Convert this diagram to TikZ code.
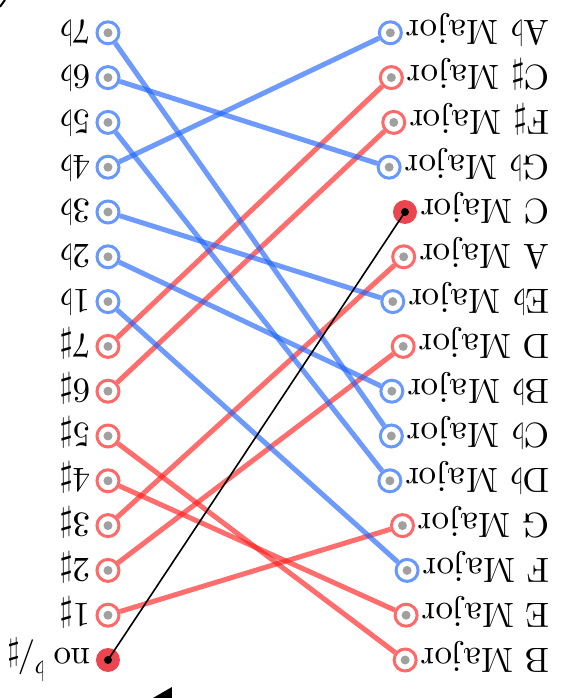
\documentclass[tikz,border=0pt]{standalone}
\usepackage{fix-cm}
\usepackage{amsmath, amssymb}
\usepackage{xcolor}
\usepackage{tikz}
\usetikzlibrary{arrows.meta, positioning, calc}

\definecolor{cBlue}{RGB}{30,100,250}
\definecolor{cRed}{RGB}{255,30,30}
\definecolor{cBlueEdge}{RGB}{105,152,252}
\definecolor{cRedEdge}{RGB}{255,105,105}
\definecolor{cRedFill}{RGB}{235,70,80}
\definecolor{cDot}{RGB}{160,160,160}

\font\keyfont="[lmroman10-regular]" at 35pt

\begin{document}
\begin{tikzpicture}[x=1pt, y=1pt, rotate=180, transform shape,
    lbl/.style={font=\fontsize{35}{40}\selectfont\keyfont, inner sep=0pt, text height=24pt, text depth=0pt},
    ring/.style={circle, draw=#1, line width=3pt, fill=white, minimum size=22pt, inner sep=0pt,
        path picture={\fill[cDot] (path picture bounding box.center) circle (4.5pt);}},
    bring/.style={ring=cBlueEdge},
    rring/.style={ring=cRedEdge},
    keydot/.style={circle, fill=cRedFill, minimum size=24pt, inner sep=0pt,
        path picture={\fill[black] (path picture bounding box.center) circle (4pt);}},
    bline/.style={line width=5pt, draw=cBlue, draw opacity=0.65},
    rline/.style={line width=5pt, draw=cRed, draw opacity=0.65}]
    \useasboundingbox (0,0) rectangle (564,-698);

    % Tonarten (links)
    \node[lbl, anchor=west] (lB) at (14,-38) {B Major};
    \node[lbl, anchor=west] (lE) at (14,-82.8) {E Major};
    \node[lbl, anchor=west] (lF) at (14,-127.6) {F Major};
    \node[lbl, anchor=west] (lG) at (14,-172.4) {G Major};
    \node[lbl, anchor=west] (lDb) at (14,-217.2) {D$\flat$ Major};
    \node[lbl, anchor=west] (lCb) at (14,-262) {C$\flat$ Major};
    \node[lbl, anchor=west] (lBb) at (14,-306.8) {B$\flat$ Major};
    \node[lbl, anchor=west] (lD) at (14,-351.6) {D Major};
    \node[lbl, anchor=west] (lEb) at (14,-396.4) {E$\flat$ Major};
    \node[lbl, anchor=west] (lA) at (14,-441.2) {A Major};
    \node[lbl, anchor=west] (lC) at (14,-486) {C Major};
    \node[lbl, anchor=west] (lGb) at (14,-530.8) {G$\flat$ Major};
    \node[lbl, anchor=west] (lFs) at (14,-575.6) {F$\sharp$ Major};
    \node[lbl, anchor=west] (lCs) at (14,-620.4) {C$\sharp$ Major};
    \node[lbl, anchor=west] (lAb) at (14,-665.2) {A$\flat$ Major};

    \node[rring, right=3pt of lB] (kB) {};
    \node[rring, right=3pt of lE] (kE) {};
    \node[bring, right=3pt of lF] (kF) {};
    \node[rring, right=3pt of lG] (kG) {};
    \node[bring, right=3pt of lDb] (kDb) {};
    \node[bring, right=3pt of lCb] (kCb) {};
    \node[bring, right=3pt of lBb] (kBb) {};
    \node[rring, right=3pt of lD] (kD) {};
    \node[bring, right=3pt of lEb] (kEb) {};
    \node[rring, right=3pt of lA] (kA) {};
    \node[keydot, right=3pt of lC] (kC) {};
    \node[bring, right=3pt of lGb] (kGb) {};
    \node[rring, right=3pt of lFs] (kFs) {};
    \node[rring, right=3pt of lCs] (kCs) {};
    \node[bring, right=3pt of lAb] (kAb) {};

    % Vorzeichen (rechts)
    \node[keydot] (nn) at (456,-38) {};
    \node[rring] (s1) at (456,-82.8) {};
    \node[rring] (s2) at (456,-127.6) {};
    \node[rring] (s3) at (456,-172.4) {};
    \node[rring] (s4) at (456,-217.2) {};
    \node[rring] (s5) at (456,-262) {};
    \node[rring] (s6) at (456,-306.8) {};
    \node[rring] (s7) at (456,-351.6) {};
    \node[bring] (f1) at (456,-396.4) {};
    \node[bring] (f2) at (456,-441.2) {};
    \node[bring] (f3) at (456,-486) {};
    \node[bring] (f4) at (456,-530.8) {};
    \node[bring] (f5) at (456,-575.6) {};
    \node[bring] (f6) at (456,-620.4) {};
    \node[bring] (f7) at (456,-665.2) {};

    \node[lbl, right=5pt of nn] (lnn) {no\kern9pt\raisebox{14pt}{\fontsize{27}{30}\selectfont$\flat$}\kern-1pt/\kern-2pt\raisebox{-4pt}{\fontsize{33}{36}\selectfont$\sharp$}};
    \node[lbl, right=5pt of s1] (ls1) {1$\sharp$};
    \node[lbl, right=5pt of s2] (ls2) {2$\sharp$};
    \node[lbl, right=5pt of s3] (ls3) {3$\sharp$};
    \node[lbl, right=5pt of s4] (ls4) {4$\sharp$};
    \node[lbl, right=5pt of s5] (ls5) {5$\sharp$};
    \node[lbl, right=5pt of s6] (ls6) {6$\sharp$};
    \node[lbl, right=5pt of s7] (ls7) {7$\sharp$};
    \node[lbl, right=5pt of f1] (lf1) {1$\flat$};
    \node[lbl, right=5pt of f2] (lf2) {2$\flat$};
    \node[lbl, right=5pt of f3] (lf3) {3$\flat$};
    \node[lbl, right=5pt of f4] (lf4) {4$\flat$};
    \node[lbl, right=5pt of f5] (lf5) {5$\flat$};
    \node[lbl, right=5pt of f6] (lf6) {6$\flat$};
    \node[lbl, right=5pt of f7] (lf7) {7$\flat$};

    % Verbindungen
    \draw[rline] (s1) -- (kG);
    \draw[rline] (s2) -- (kD);
    \draw[rline] (s3) -- (kA);
    \draw[rline] (s4) -- (kE);
    \draw[rline] (s5) -- (kB);
    \draw[rline] (s6) -- (kFs);
    \draw[rline] (s7) -- (kCs);
    \draw[bline] (f1) -- (kF);
    \draw[bline] (f2) -- (kBb);
    \draw[bline] (f3) -- (kEb);
    \draw[bline] (f4) -- (kAb);
    \draw[bline] (f5) -- (kDb);
    \draw[bline] (f6) -- (kGb);
    \draw[bline] (f7) -- (kCb);
    \draw[line width=1.6pt] (nn.center) -- (kC.center);

    % Reste am Rand
    \draw[line width=2pt] (559,-698) -- (564,-691.3);
    \fill (411,0) -- (392,0) -- (392,-11) -- cycle;
\end{tikzpicture}
\end{document}
